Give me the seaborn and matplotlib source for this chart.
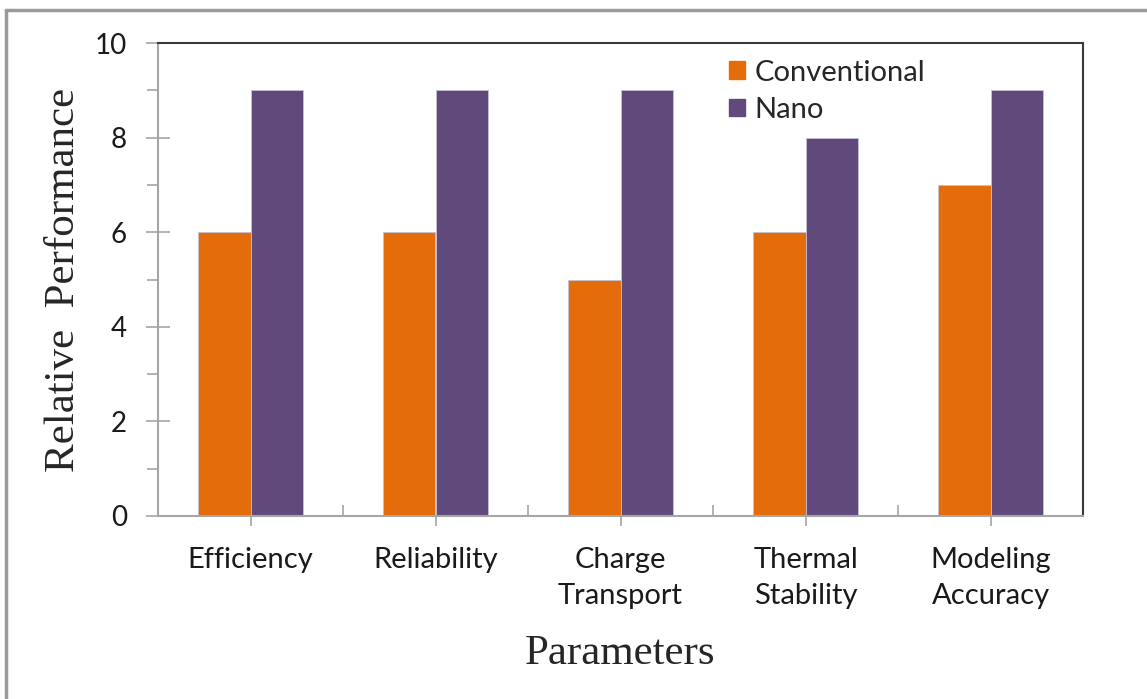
import matplotlib
matplotlib.use("Agg")
import matplotlib.pyplot as plt
from matplotlib.lines import Line2D
from matplotlib.ticker import MultipleLocator, FixedLocator
import seaborn as sns
import pandas as pd

# Chart data
parameters = ["Efficiency", "Reliability", "Charge\nTransport", "Thermal\nStability", "Modeling\nAccuracy"]
conventional = [6, 6, 5, 6, 7]
nano = [9, 9, 9, 8, 9]
series_names = ["Conventional", "Nano"]
series_colors = ["#E46C0A", "#604A7B"]

df = pd.DataFrame({
    "Parameter": parameters * 2,
    "Series": [series_names[0]] * len(parameters) + [series_names[1]] * len(parameters),
    "Value": conventional + nano,
})

sns.set_theme(style="white")
tick_font = ["Lato", "DejaVu Sans"]
serif_font = ["Liberation Serif", "DejaVu Serif"]

fig = plt.figure(figsize=(11.47, 6.99), dpi=100)
ax = fig.add_axes([158 / 1147, 1 - 516 / 699, (1083 - 158) / 1147, (516 - 43) / 699])

sns.barplot(data=df, x="Parameter", y="Value", hue="Series", palette=series_colors,
            width=0.57, saturation=1, ax=ax, edgecolor="#C8C0D4", linewidth=0.6)

ax.set_xlim(-0.5, len(parameters) - 0.5)
ax.set_ylim(0, 10)

# y axis: crossing major ticks, outward minor ticks
ax.yaxis.set_major_locator(MultipleLocator(2))
ax.yaxis.set_minor_locator(MultipleLocator(1))
ax.tick_params(axis="y", which="major", direction="inout", length=17, width=1.2,
               color="#A6A6A6", pad=14, left=True)
ax.tick_params(axis="y", which="minor", direction="out", length=8, width=1.2,
               color="#A6A6A6", left=True)

# x axis: outward ticks at categories, inward ticks at boundaries
ax.xaxis.set_minor_locator(FixedLocator([i + 0.5 for i in range(len(parameters))]))
ax.tick_params(axis="x", which="major", direction="out", length=7, width=1.2,
               color="#A6A6A6", pad=15, bottom=True)
ax.tick_params(axis="x", which="minor", direction="in", length=8, width=1.2,
               color="#A6A6A6", bottom=True)

for lab in ax.get_yticklabels():
    lab.set_fontfamily(tick_font)
    lab.set_fontsize(20)
    lab.set_color("#1a1a1a")
for lab in ax.get_xticklabels():
    lab.set_fontfamily(tick_font)
    lab.set_fontsize(21)
    lab.set_color("#1a1a1a")
    lab.set_linespacing(1.52)

for side in ["left", "bottom"]:
    ax.spines[side].set_color("#A6A6A6")
    ax.spines[side].set_linewidth(1.5)
for side in ["top", "right"]:
    ax.spines[side].set_color("#3A3A3A")
    ax.spines[side].set_linewidth(1.5)

ax.set_ylabel("Relative  Performance", fontfamily=serif_font, fontsize=31, labelpad=8)
ax.set_xlabel("Parameters", fontfamily=serif_font, fontsize=31, labelpad=18)

handles = [plt.Rectangle((0, 0), 1, 1, color=c) for c in series_colors]
leg = ax.legend(handles, series_names, loc="upper left",
                bbox_to_anchor=(714 / 1147, 1 - 45 / 699), bbox_transform=fig.transFigure,
                frameon=False, handlelength=0.55, handleheight=0.55, handletextpad=0.35,
                labelspacing=0.38, borderpad=0, prop={"family": tick_font, "size": 21})

# outer frame lines
fig.add_artist(Line2D([6 / 1147, 6 / 1147], [0, 1 - 10 / 699], transform=fig.transFigure,
                      color="#9A9A9A", linewidth=2.5))
fig.add_artist(Line2D([6 / 1147, 1], [1 - 10 / 699, 1 - 10 / 699], transform=fig.transFigure,
                      color="#9A9A9A", linewidth=2.5))

fig.savefig("out.png", dpi=100)
